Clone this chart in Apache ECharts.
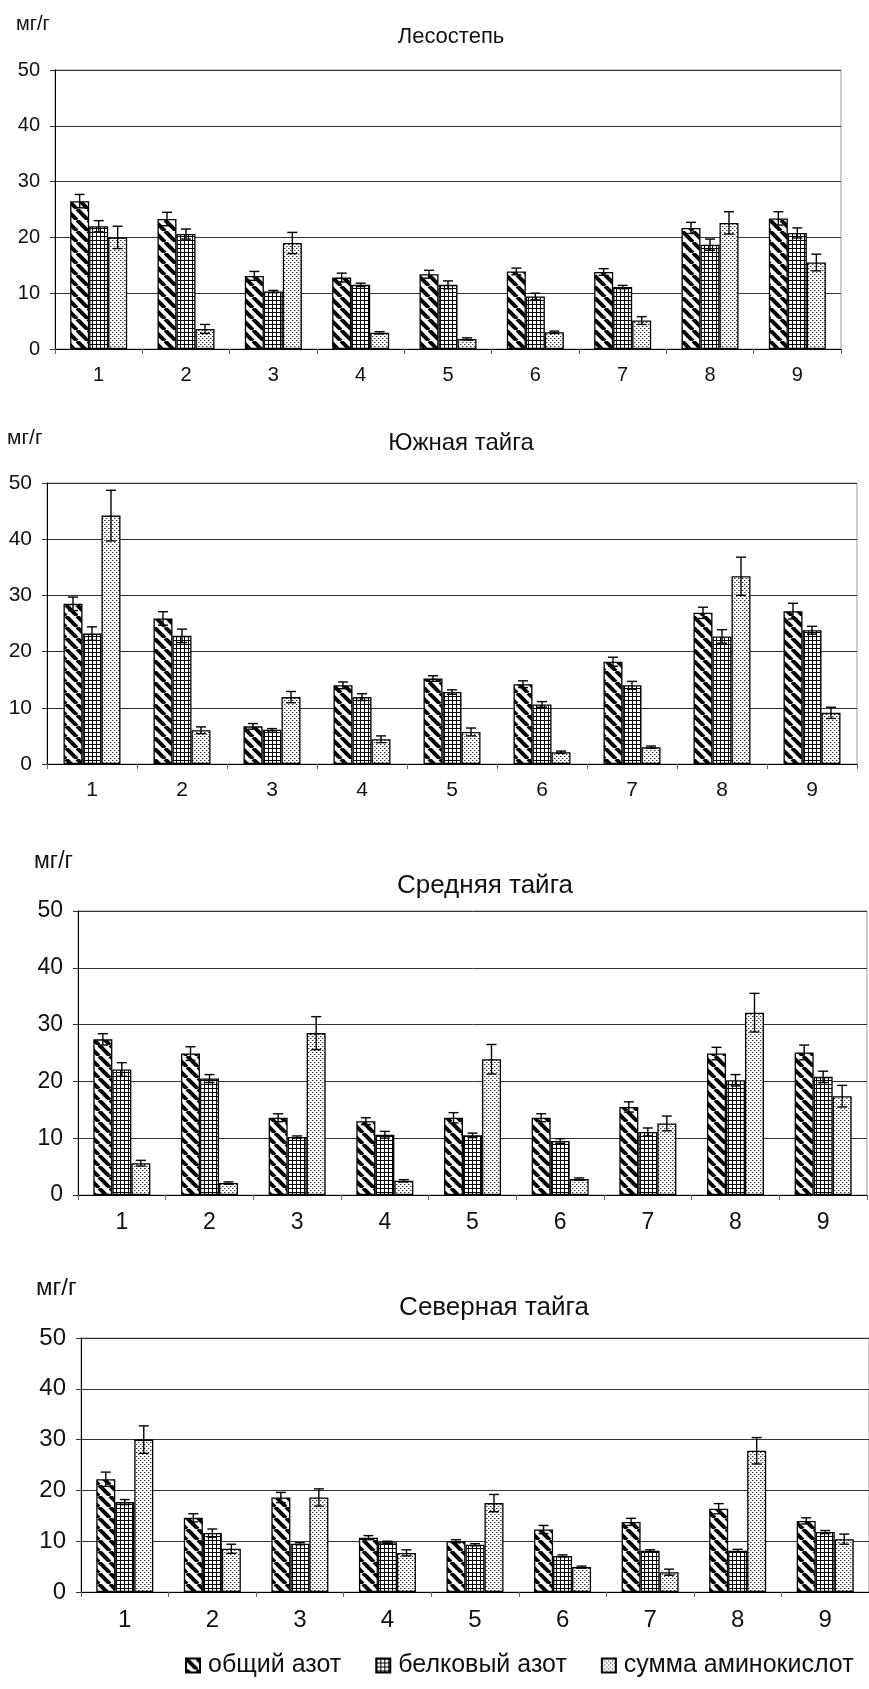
<!DOCTYPE html>
<html>
<head>
<meta charset="utf-8">
<script src="https://cdn.jsdelivr.net/npm/echarts@6/dist/echarts.min.js"></script>
<style>
  html, body { margin: 0; padding: 0; background: #fff; }
  #chart { width: 869px; height: 1689px; }
</style>
</head>
<body>
<div id="chart"></div>
<script>
var categories = ['1', '2', '3', '4', '5', '6', '7', '8', '9'];
var seriesNames = ['общий азот', 'белковый азот', 'сумма аминокислот'];
var panelTitles = ['Лесостепь', 'Южная тайга', 'Средняя тайга', 'Северная тайга'];
var yTicks = [0, 10, 20, 30, 40, 50];

// Лесостепь
var forestSteppeTotal = [26.5, 23.3, 13.1, 12.8, 13.4, 13.9, 13.8, 21.7, 23.4];
var forestSteppeTotalErr = [1.2, 1.2, 0.8, 0.8, 0.7, 0.6, 0.6, 1.0, 1.2];
var forestSteppeProtein = [22.0, 20.6, 10.3, 11.5, 11.5, 9.4, 11.1, 18.7, 20.8];
var forestSteppeProteinErr = [1.0, 0.9, 0.2, 0.3, 0.7, 0.6, 0.3, 1.0, 0.9];
var forestSteppeAmino = [20.0, 3.6, 19.0, 2.9, 1.8, 3.0, 5.1, 22.6, 15.5];
var forestSteppeAminoErr = [2.0, 0.8, 1.9, 0.2, 0.2, 0.2, 0.7, 2.0, 1.5];

// Южная тайга
var southTaigaTotal = [28.5, 25.9, 6.7, 14.0, 15.2, 14.2, 18.2, 26.9, 27.2];
var southTaigaTotalErr = [1.2, 1.2, 0.5, 0.6, 0.5, 0.6, 0.8, 1.0, 1.4];
var southTaigaProtein = [23.2, 22.8, 6.1, 11.9, 12.8, 10.6, 14.0, 22.7, 23.8];
var southTaigaProteinErr = [1.2, 1.2, 0.2, 0.6, 0.4, 0.5, 0.7, 1.2, 0.7];
var southTaigaAmino = [44.2, 6.0, 11.9, 4.4, 5.7, 2.1, 3.0, 33.4, 9.1];
var southTaigaAminoErr = [4.5, 0.6, 1.0, 0.6, 0.7, 0.2, 0.2, 3.4, 1.0];

// Средняя тайга
var middleTaigaTotal = [27.4, 24.9, 13.6, 13.0, 13.6, 13.6, 15.5, 24.9, 25.1];
var middleTaigaTotalErr = [1.0, 1.2, 0.7, 0.6, 0.9, 0.7, 0.9, 1.1, 1.3];
var middleTaigaProtein = [22.1, 20.5, 10.2, 10.6, 10.5, 9.5, 11.1, 20.2, 20.8];
var middleTaigaProteinErr = [1.2, 0.7, 0.2, 0.6, 0.4, 0.4, 0.7, 1.0, 1.0];
var middleTaigaAmino = [5.6, 2.1, 28.5, 2.5, 23.9, 2.8, 12.6, 32.1, 17.4];
var middleTaigaAminoErr = [0.5, 0.2, 2.9, 0.2, 2.6, 0.2, 1.3, 3.4, 1.9];

// Северная тайга
var northTaigaTotal = [22.2, 14.6, 18.6, 10.7, 10.0, 12.3, 13.8, 16.4, 14.0];
var northTaigaTotalErr = [1.4, 0.8, 1.0, 0.4, 0.3, 0.8, 0.7, 1.0, 0.6];
var northTaigaProtein = [17.7, 11.6, 9.5, 9.8, 9.3, 7.1, 8.1, 8.1, 11.8];
var northTaigaProteinErr = [0.5, 0.8, 0.2, 0.2, 0.2, 0.2, 0.2, 0.3, 0.3];
var northTaigaAmino = [30.0, 8.5, 18.6, 7.7, 17.5, 4.9, 3.9, 27.8, 10.4];
var northTaigaAminoErr = [2.7, 0.9, 1.7, 0.6, 1.7, 0.2, 0.6, 2.6, 1.0];

var panelValues = [
  [forestSteppeTotal, forestSteppeProtein, forestSteppeAmino],
  [southTaigaTotal, southTaigaProtein, southTaigaAmino],
  [middleTaigaTotal, middleTaigaProtein, middleTaigaAmino],
  [northTaigaTotal, northTaigaProtein, northTaigaAmino]
];
var panelErrors = [
  [forestSteppeTotalErr, forestSteppeProteinErr, forestSteppeAminoErr],
  [southTaigaTotalErr, southTaigaProteinErr, southTaigaAminoErr],
  [middleTaigaTotalErr, middleTaigaProteinErr, middleTaigaAminoErr],
  [northTaigaTotalErr, northTaigaProteinErr, northTaigaAminoErr]
];

// layout of the four plots
var panels = [
  { left: 55, right: 28, top: 70, height: 279, font: 20, titleFont: 22, title: [451, 37], unit: [16, 24] },
  { left: 47, right: 12, top: 483, height: 281, font: 21, titleFont: 24, title: [461, 443], unit: [7, 438] },
  { left: 78, right: 2, top: 911, height: 284, font: 23, titleFont: 26, title: [485, 886], unit: [34, 862] },
  { left: 81, right: 0, top: 1338, height: 254, font: 24, titleFont: 26, title: [494, 1308], unit: [36, 1288] }
];

var FONT = '"Liberation Sans", Arial, sans-serif';
var BAR_W = 19;

var makePattern = (size, draw) => {
  const c = document.createElement('canvas');
  c.width = size; c.height = size;
  const ctx = c.getContext('2d');
  ctx.fillStyle = '#fff';
  ctx.fillRect(0, 0, size, size);
  draw(ctx, size);
  return { image: c, repeat: 'repeat' };
};

var hatch = makePattern(11, (ctx, s) => {
  ctx.strokeStyle = '#000';
  ctx.lineWidth = 4;
  [-s, 0, s].forEach(off => {
    ctx.beginPath();
    ctx.moveTo(off, 0);
    ctx.lineTo(off + s, s);
    ctx.stroke();
  });
});
var grid = makePattern(4, (ctx, s) => {
  ctx.fillStyle = '#000';
  ctx.fillRect(0, 0, s, 1);
  ctx.fillRect(0, 0, 1, s);
});
var dots = makePattern(4, (ctx, s) => {
  ctx.fillStyle = '#333';
  ctx.fillRect(0, 0, 1, 1);
  ctx.fillRect(2, 2, 1, 1);
  ctx.fillStyle = '#aaa';
  ctx.fillRect(1, 0, 1, 1);
  ctx.fillRect(3, 2, 1, 1);
});
var fills = [hatch, grid, dots];

var grids = [], xAxes = [], yAxes = [], series = [], graphics = [];

panels.forEach((p, i) => {
  grids.push({ left: p.left, right: p.right, top: p.top, height: p.height, show: true, borderColor: '#999', borderWidth: 1 });
  xAxes.push({
    type: 'category', gridIndex: i, data: categories,
    axisLine: { lineStyle: { color: '#000', width: 1 } },
    axisTick: { show: true, interval: 0, length: 5, lineStyle: { color: '#666' } },
    axisLabel: { color: '#111', fontSize: p.font, fontFamily: FONT, margin: 16 }
  });
  yAxes.push({
    type: 'value', gridIndex: i, min: 0, max: 50, interval: 10,
    axisLine: { show: true, lineStyle: { color: '#000', width: 1 } },
    axisTick: { show: true, length: 5, lineStyle: { color: '#333' } },
    axisLabel: { color: '#111', fontSize: p.font, fontFamily: FONT, margin: 15 },
    splitLine: { lineStyle: { color: '#333', width: 1 } }
  });
  panelValues[i].forEach((vals, k) => {
    series.push({
      name: seriesNames[k], type: 'bar', xAxisIndex: i, yAxisIndex: i,
      data: vals, barWidth: BAR_W, barGap: '0%',
      itemStyle: { color: fills[k], borderColor: '#000', borderWidth: 1.3 },
      silent: true
    });
  });
  panelValues[i].forEach((vals, k) => {
    const errs = panelErrors[i][k];
    series.push({
      name: 'err', type: 'custom', xAxisIndex: i, yAxisIndex: i, z: 5,
      data: vals.map((v, j) => [j, v, errs[j]]),
      encode: { x: 0, y: 1 },
      renderItem: (params, api) => {
        const idx = api.value(0), v = api.value(1), e = api.value(2);
        const x = api.coord([idx, v])[0] + (k - 1) * BAR_W;
        const hi = api.coord([idx, v + e])[1];
        const lo = api.coord([idx, v - e])[1];
        const cap = 5;
        const st = { stroke: '#000', lineWidth: 1.4 };
        return {
          type: 'group',
          children: [
            { type: 'line', shape: { x1: x, y1: hi, x2: x, y2: lo }, style: st },
            { type: 'line', shape: { x1: x - cap, y1: hi, x2: x + cap, y2: hi }, style: st },
            { type: 'line', shape: { x1: x - cap, y1: lo, x2: x + cap, y2: lo }, style: st }
          ]
        };
      },
      silent: true
    });
  });
  graphics.push({
    type: 'text', x: p.title[0], y: p.title[1],
    style: { text: panelTitles[i], font: p.titleFont + 'px ' + FONT, fill: '#111', align: 'center', verticalAlign: 'middle' }
  });
  graphics.push({
    type: 'text', x: p.unit[0], y: p.unit[1],
    style: { text: 'мг/г', font: p.font + 'px ' + FONT, fill: '#111', align: 'left', verticalAlign: 'middle' }
  });
});

var chart = echarts.init(document.getElementById('chart'));
chart.setOption({
  animation: false,
  backgroundColor: '#fff',
  grid: grids,
  xAxis: xAxes,
  yAxis: yAxes,
  legend: {
    data: seriesNames, left: 180, top: 1648, orient: 'horizontal',
    itemWidth: 14, itemHeight: 14, itemGap: 34, icon: 'rect',
    textStyle: { fontSize: 25, fontFamily: FONT, color: '#111', padding: [0, 0, 0, 3] },
    selectedMode: false
  },
  graphic: graphics,
  series: series
});
</script>
</body>
</html>
